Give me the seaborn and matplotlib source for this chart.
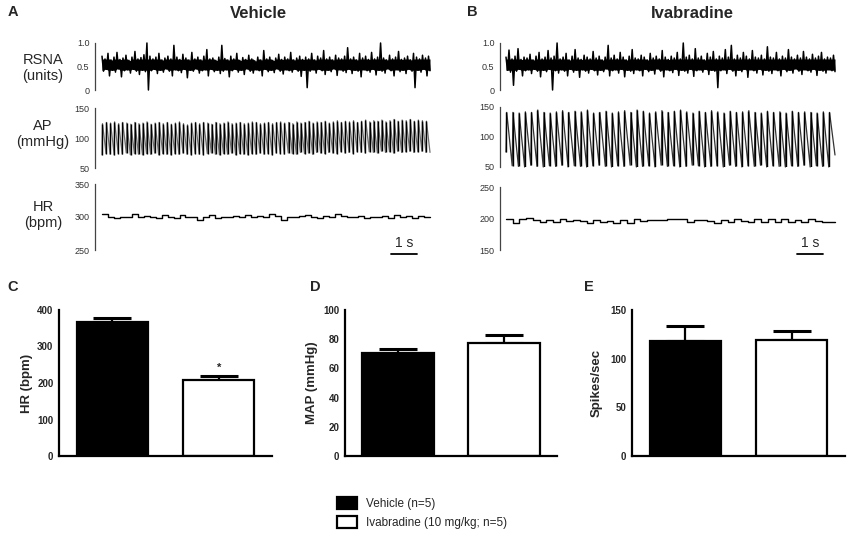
import numpy as np
import pandas as pd
import matplotlib
matplotlib.use("Agg")
import matplotlib.pyplot as plt
from matplotlib.patches import Patch
import seaborn as sns

sns.set_style("white")
plt.rcParams['font.family'] = ['Liberation Sans', 'DejaVu Sans']

# ---------------- data ----------------
GROUPS = ["Vehicle (n=5)", "Ivabradine (10 mg/kg; n=5)"]
HR_MEAN = [367, 208]
HR_SEM = [11, 11]
MAP_MEAN = [70.5, 77.4]
MAP_SEM = [3.0, 5.5]
SPK_MEAN = [118, 119]
SPK_SEM = [15.5, 9]
HR_SIG = 241  # asterisk height

RSNA_VEH_UP = [0.72,0.66,0.78,0.64,0.70,0.80,0.65,0.68,0.74,0.63,0.70,0.82,0.66,0.69,0.75,1.00,0.72,0.66,0.70,0.78,0.64,0.68,0.72,0.66,0.95,0.70,0.65,0.76,0.68,0.64,0.80,0.66,0.70,0.64,0.72,0.86,0.66,0.68,0.63,0.70,0.95,0.67,0.64,0.72,0.66,0.78,0.63,0.69,0.65,0.74,0.66,0.62,0.70,0.64,0.84,0.66,0.70,0.63,0.68,0.76,0.65,0.70,0.66,0.80,0.64,0.68,0.72,0.65,0.70,0.66,0.78,0.64,0.72,0.68,0.84,0.66,0.70,0.64,0.74,0.68,0.66,0.72,0.90,0.66,0.70,0.64,0.78,0.68,0.72,0.65,0.80,0.66,0.70,1.00,0.68,0.64,0.74,0.66,0.70,0.82,0.65,0.68,0.72,0.64,0.78,0.70,0.66,0.74,0.68,0.72]
RSNA_VEH_DN = [0.40,0.44,0.30,0.42,0.38,0.45,0.28,0.41,0.43,0.36,0.44,0.40,0.33,0.42,0.39,0.00,0.41,0.44,0.35,0.42,0.38,0.45,0.40,0.30,0.43,0.41,0.37,0.44,0.26,0.42,0.40,0.45,0.36,0.41,0.43,0.30,0.44,0.39,0.42,0.35,0.40,0.43,0.28,0.41,0.44,0.38,0.42,0.33,0.45,0.40,0.36,0.43,0.41,0.30,0.44,0.39,0.42,0.37,0.45,0.40,0.34,0.43,0.41,0.38,0.44,0.40,0.29,0.42,0.05,0.40,0.43,0.36,0.44,0.41,0.33,0.42,0.39,0.45,0.31,0.43,0.40,0.37,0.44,0.35,0.42,0.40,0.28,0.43,0.41,0.38,0.44,0.32,0.42,0.40,0.36,0.45,0.41,0.30,0.43,0.39,0.42,0.35,0.44,0.40,0.05,0.42,0.38,0.44,0.30,0.41]
RSNA_IVA_UP = [0.70,0.85,0.66,0.72,0.88,0.65,0.70,0.68,0.76,0.64,0.72,0.80,0.66,0.70,0.84,0.68,0.72,1.00,0.66,0.70,0.78,0.64,0.72,0.86,0.68,0.65,0.74,0.70,0.66,0.82,0.68,0.72,0.64,0.70,0.95,0.68,0.74,0.66,0.80,0.70,0.64,0.72,0.86,0.68,0.66,0.74,0.70,0.64,0.78,0.68,0.72,0.66,0.84,0.70,0.65,0.72,0.68,0.80,0.66,1.00,0.70,0.74,0.66,0.88,0.68,0.72,0.64,0.78,0.70,0.82,0.66,0.72,0.68,0.86,0.70,0.95,0.66,0.74,0.68,0.80,0.72,0.66,0.84,0.70,0.68,0.74,0.66,0.92,0.70,0.68,0.80,0.66,0.72,0.68,0.86,0.70,0.66,0.74,0.68,0.82,0.70,0.66,0.76,0.68,0.72,0.80,0.66,0.70,0.68,0.74]
RSNA_IVA_DN = [0.42,0.38,0.10,0.40,0.44,0.30,0.41,0.43,0.35,0.44,0.40,0.28,0.42,0.39,0.44,0.00,0.41,0.36,0.43,0.40,0.30,0.44,0.38,0.42,0.27,0.43,0.40,0.36,0.44,0.41,0.32,0.42,0.39,0.45,0.30,0.41,0.43,0.36,0.44,0.28,0.42,0.40,0.35,0.43,0.41,0.30,0.44,0.39,0.42,0.34,0.45,0.40,0.28,0.43,0.41,0.37,0.44,0.31,0.42,0.40,0.36,0.44,0.29,0.41,0.43,0.38,0.44,0.33,0.42,0.40,0.05,0.41,0.43,0.35,0.44,0.40,0.30,0.42,0.39,0.44,0.27,0.43,0.41,0.36,0.44,0.32,0.42,0.40,0.35,0.43,0.41,0.30,0.44,0.39,0.42,0.36,0.45,0.40,0.33,0.43,0.41,0.38,0.44,0.31,0.42,0.40,0.36,0.43,0.41,0.39]
RSNA_CORE = (0.42, 0.47, 0.60, 0.66)  # solid core band of the nerve recording

AP_VEH_PEAK = [124,126,125,127,124,126,125,123,126,124,125,127,123,125,126,124,126,123,125,127,124,122,125,126,124,126,125,123,126,124,125,127,124,125,126,124,125,127,126,124,125,126,124,126,127,125,126,124,127,125,126,128,125,127,126,128,125,127,129,126,128,127,129,126,128,130,127,129,128,130,127,129,131,128,130,129,131,128,130,129,128]
AP_VEH_TROUGH = [72,74,73,72,74,73,75,72,74,73,72,74,73,75,72,74,73,72,74,73,75,73,72,74,73,72,74,75,73,72,74,73,75,72,74,73,72,74,73,75,73,74,72,75,74,73,75,74,73,76,74,75,73,76,75,74,76,75,74,77,75,76,74,77,76,75,77,76,75,78,76,77,75,78,76,77,78,76,77,78,76]
AP_IVA_PEAK = [141,141,140,142,141,145,141,140,142,144,141,143,142,145,140,141,143,140,142,144,141,145,143,140,142,144,141,143,145,142,140,143,141,144,142,140,143,141,142,144,141,140,143,141,142,140,143,141,142,141,140,142,141]
AP_IVA_TROUGH = [75,52,51,50,53,51,50,52,51,53,50,52,51,50,52,53,51,50,52,51,53,50,51,52,50,53,51,52,50,51,53,52,50,51,52,50,53,51,50,52,51,53,50,52,51,50,52,51,53,50,52,51,50,70]

HR_VEH_TRACE = [304,300,298,300,300,304,300,302,300,299,303,300,298,303,300,300,296,300,303,298,300,300,301,300,303,300,302,300,304,301,296,300,300,301,303,300,298,302,300,305,301,300,300,302,298,300,300,301,299,303,300,301,299,302,300]
HR_IVA_TRACE = [200,193,200,201,198,195,198,195,199,196,197,196,193,197,195,196,193,198,193,199,196,197,197,197,199,199,200,194,197,198,196,193,198,194,200,196,195,199,194,200,195,199,194,198,195,199,196,195,195]

# ---------------- layout helpers ----------------
W, H = 856, 538
fig = plt.figure(figsize=(W / 100, H / 100), dpi=100)


def px_axes(x0, y0, x1, y1):
    return fig.add_axes([x0 / W, 1 - y1 / H, (x1 - x0) / W, (y1 - y0) / H])


def style_trace_ax(ax, ylim, ticks, labels, xspan, n, fs=6.5):
    al, ds, de, ar = xspan
    per = (n - 1) / (de - ds)
    ax.set_xlim(-(ds - al) * per, (n - 1) + (ar - de) * per)
    ax.set_ylim(*ylim)
    for s in ["top", "right", "bottom"]:
        ax.spines[s].set_visible(False)
    ax.spines["left"].set_color("#444444")
    ax.spines["left"].set_linewidth(0.9)
    ax.set_xticks([])
    ax.set_xlabel("")
    ax.set_ylabel("")
    ax.set_yticks(ticks)
    ax.set_yticklabels(labels, fontsize=fs, color="#333333")
    ax.tick_params(axis="y", direction="out", length=3, width=0.9, color="#444444", pad=1)
    ax.patch.set_alpha(0)


def rsna(ax, up, dn, xspan):
    vals = []
    for u, d in zip(up, dn):
        vals.extend([u, d])
    x = np.arange(len(vals))
    lo = np.clip(np.repeat(dn[:len(up)], 2)[:len(vals)], RSNA_CORE[0], RSNA_CORE[1])
    hi = np.clip(np.repeat(up[:len(dn)], 2)[:len(vals)], RSNA_CORE[2], RSNA_CORE[3])
    ax.fill_between(x, lo, hi, color="black", linewidth=0)
    sns.lineplot(x=x, y=vals, ax=ax, color="black", linewidth=1.1, estimator=None, sort=False)
    ax.get_lines()[-1].set_clip_on(False)
    style_trace_ax(ax, (0, 1), [0, 0.5, 1.0], ["0", "0.5", "1.0"], xspan, len(vals))


def ap(ax, peaks, troughs, xspan, decay_color):
    xs, ys = [], []
    for i, (t, p) in enumerate(zip(troughs, peaks)):
        xs.extend([i, i + 0.12])
        ys.extend([t, p])
    xs.append(len(peaks))
    ys.append(troughs[len(peaks)] if len(troughs) > len(peaks) else troughs[-1])
    ax.plot(xs, ys, color=decay_color, linewidth=0.9, clip_on=False)
    ax.vlines(np.arange(len(peaks)) + 0.06, troughs[:len(peaks)], peaks, color="black",
              linewidth=1.0)
    style_trace_ax(ax, (50, 150), [50, 100, 150], ["50", "100", "150"], xspan, len(peaks) + 1)


def hr(ax, vals, ylim, ticks, xspan):
    x = np.arange(len(vals) + 1)
    v = list(vals) + [vals[-1]]
    ax.plot(x, v, color="black", linewidth=1.0, drawstyle="steps-post")
    style_trace_ax(ax, ylim, ticks, [str(t) for t in ticks], xspan, len(v))


# ---------------- panel A (Vehicle) ----------------
spanA = (95, 102, 430, 432)
axA1 = px_axes(95, 43, 432, 90)
rsna(axA1, RSNA_VEH_UP, RSNA_VEH_DN, spanA)
axA2 = px_axes(95, 108, 432, 168)
ap(axA2, AP_VEH_PEAK, AP_VEH_TROUGH, spanA, "#6e6e6e")
axA3 = px_axes(95, 184, 432, 250)
hr(axA3, HR_VEH_TRACE, (250, 350), [250, 300, 350], spanA)

# ---------------- panel B (Ivabradine) ----------------
spanB = (500, 506, 835, 837)
axB1 = px_axes(500, 43, 837, 90)
rsna(axB1, RSNA_IVA_UP, RSNA_IVA_DN, spanB)
axB2 = px_axes(500, 107, 837, 167)
ap(axB2, AP_IVA_PEAK, AP_IVA_TROUGH, spanB, "#333333")
axB3 = px_axes(500, 187, 837, 250)
hr(axB3, HR_IVA_TRACE, (150, 250), [150, 200, 250], spanB)

# text for traces
fig.text(8 / W, 1 - 12 / H, "A", fontsize=10.5, fontweight="bold", va="center", ha="left")
fig.text(467 / W, 1 - 12 / H, "B", fontsize=10.5, fontweight="bold", va="center", ha="left")
fig.text(258 / W, 1 - 14 / H, "Vehicle", fontsize=12, fontweight="bold", ha="center", va="center")
fig.text(692 / W, 1 - 14 / H, "Ivabradine", fontsize=12, fontweight="bold", ha="center", va="center")
for txt, yc in [("RSNA\n(units)", 68), ("AP\n(mmHg)", 134), ("HR\n(bpm)", 215)]:
    fig.text(43 / W, 1 - yc / H, txt, fontsize=10.5, ha="center", va="center", linespacing=1.2)

# scale bars
for (x0, x1) in [(391, 417), (797, 823)]:
    fig.add_artist(plt.Line2D([x0 / W, x1 / W], [1 - 254 / H, 1 - 254 / H],
                              color="black", linewidth=1.3))
    fig.text((x0 + x1) / 2 / W, 1 - 250 / H, "1 s", fontsize=10, ha="center", va="bottom")

# ---------------- bar panels ----------------
def bar_panel(ax, means, sems, ylim, ticks, ylabel, label_x_px, spine_px, width_px):
    df = pd.DataFrame({"group": GROUPS, "value": means})
    sns.barplot(data=df, x="group", y="value", hue="group", palette=["black", "white"],
                edgecolor="black", linewidth=1.6, width=0.67, ax=ax, legend=False,
                errorbar=None, saturation=1)
    ax.errorbar(x=[0, 1], y=means, yerr=[[0, 0], sems], fmt="none", ecolor="black",
                elinewidth=1.6, capsize=13.5, capthick=2.2, zorder=1)
    ax.set_xlim(-0.5, 1.5)
    ax.set_ylim(*ylim)
    ax.set_xticks([])
    ax.set_xlabel("")
    ax.set_yticks(ticks)
    ax.set_yticklabels([str(t) for t in ticks], fontsize=7, fontweight="bold")
    ax.tick_params(axis="y", direction="out", length=3, width=1.5, pad=1)
    for s in ["top", "right"]:
        ax.spines[s].set_visible(False)
    for s in ["left", "bottom"]:
        ax.spines[s].set_linewidth(1.6)
        ax.spines[s].set_color("black")
    ax.set_ylabel(ylabel, fontsize=9.5, fontweight="bold")
    ax.yaxis.set_label_coords((label_x_px + 6 - spine_px) / width_px, 0.5)
    ax.patch.set_alpha(0)
    for b in ax.patches:
        b.set_zorder(2)


axC = px_axes(59, 310, 272, 456)
bar_panel(axC, HR_MEAN, HR_SEM, (0, 400), [0, 100, 200, 300, 400], "HR (bpm)", 27, 59, 213)
axC.text(1, HR_SIG, "*", fontsize=8, ha="center", va="center", fontweight="bold")

axD = px_axes(345, 310, 557, 456)
bar_panel(axD, MAP_MEAN, MAP_SEM, (0, 100), [0, 20, 40, 60, 80, 100], "MAP (mmHg)", 312, 345, 212)

axE = px_axes(632, 310, 845, 456)
bar_panel(axE, SPK_MEAN, SPK_SEM, (0, 150), [0, 50, 100, 150], "Spikes/sec", 597, 632, 213)

for lab, xp in [("C", 7), ("D", 310), ("E", 584)]:
    fig.text(xp / W, 1 - 287 / H, lab, fontsize=10.5, fontweight="bold", va="center", ha="left")

handles = [Patch(facecolor="black", edgecolor="black", linewidth=1.6),
           Patch(facecolor="white", edgecolor="black", linewidth=1.6)]
fig.legend(handles, GROUPS, loc="upper left", bbox_to_anchor=(337 / W, 1 - 497 / H),
           frameon=False, fontsize=8.5, handlelength=1.7, handleheight=1.2,
           handletextpad=0.75, labelspacing=0.5, borderpad=0, borderaxespad=0)

fig.savefig("out.png", dpi=100)
